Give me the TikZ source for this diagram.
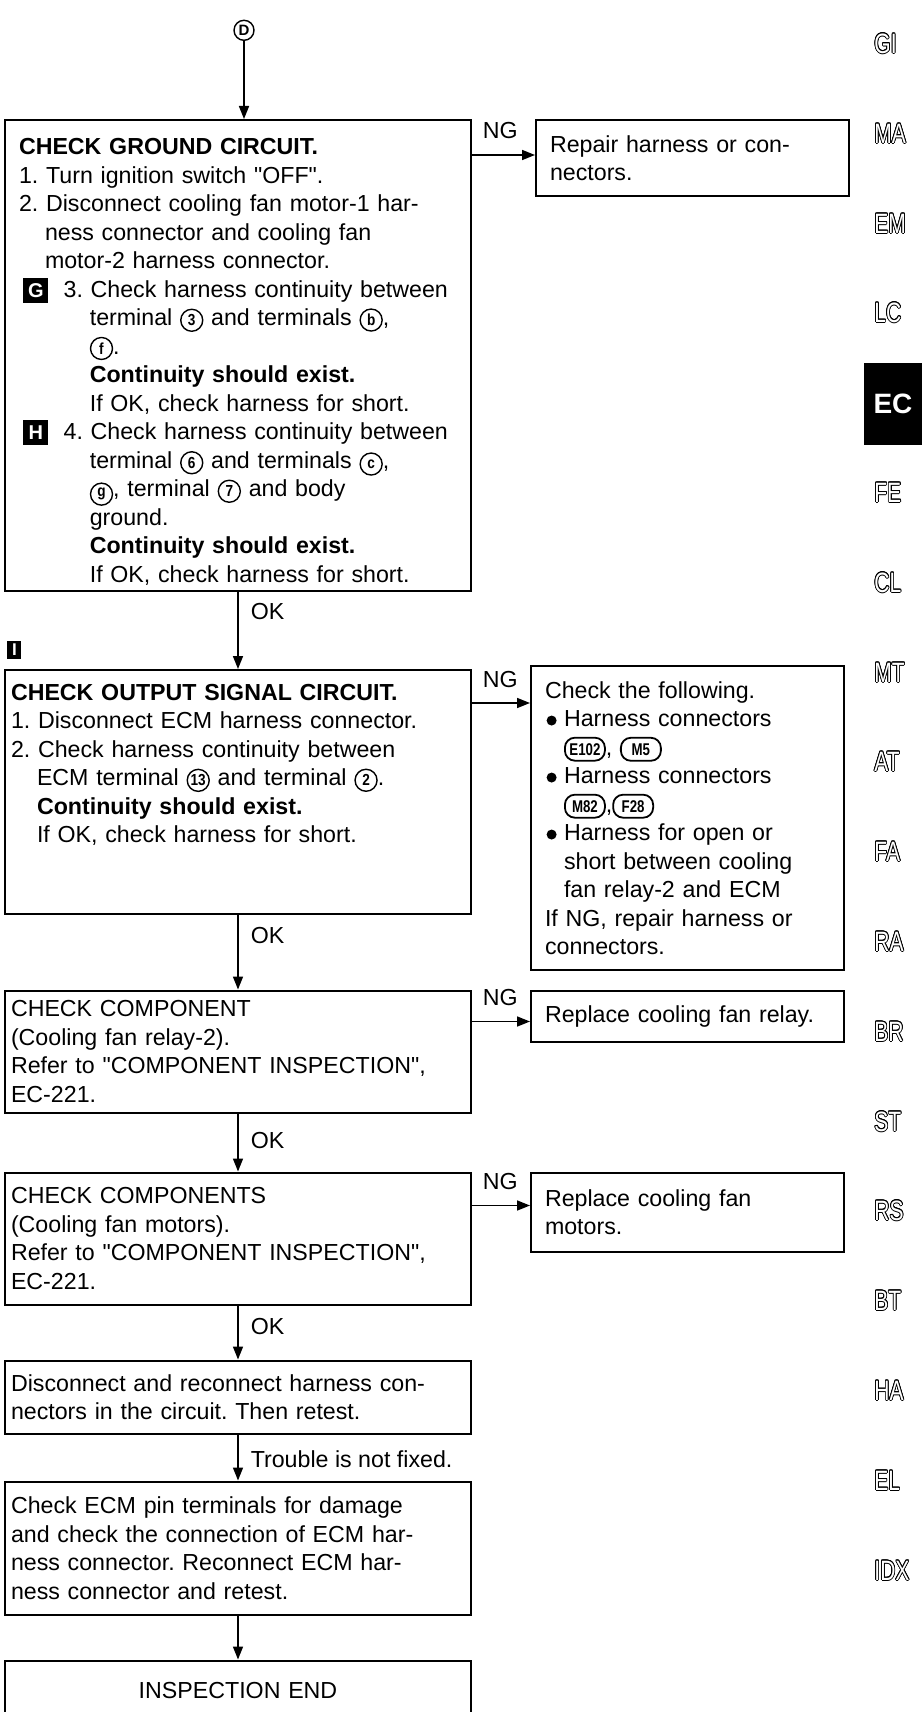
\documentclass[tikz,border=0pt]{standalone}
\usepackage{fontspec}
\setmainfont{Liberation Sans}[Ligatures=TeXOff]
\usepackage[copies]{contour}
\usetikzlibrary{arrows.meta,positioning}

\contourlength{0.4pt}
\newcommand{\bodyfont}{\fontsize{11.6}{14.25}\selectfont\lineskiplimit=-20pt\frenchspacing}
\newcommand{\tabfont}{\fontsize{14}{14}\selectfont}
% indents for continued lines
\newcommand{\ind}{\hspace*{13pt}}
\newcommand{\subind}{\hspace*{35.4pt}}
\newcommand{\bulind}{\hspace*{9.5pt}}
% black step markers, circled terminals, connector tags
\newcommand{\stepmark}[1]{\tikz[baseline=(m.base)]\node[fill=black, text=white, minimum size=12.5pt, inner sep=0pt, font=\bfseries\fontsize{10}{10}\selectfont] (m) {#1};}
\newcommand{\mk}[1]{\makebox[22.3pt][l]{\hspace*{2.2pt}\stepmark{#1}}}
\newcommand{\term}[1]{\tikz[baseline=(t.base)]\node[draw, circle, line width=0.7pt, minimum size=11pt, inner sep=0pt, font=\bfseries\fontsize{8}{8}\selectfont] (t) {\scalebox{0.85}[1]{#1}};}
\newcommand{\conn}[1]{\tikz[baseline=(c.base)]\node[draw, rounded corners=5pt, line width=0.9pt, minimum width=20pt, minimum height=11.5pt, inner xsep=2pt, inner ysep=1.5pt, font=\bfseries\fontsize{8.5}{8.5}\selectfont] (c) {\scalebox{0.78}[1]{#1}};}
\newcommand{\bul}{\makebox[9.5pt][l]{\hspace*{0.8pt}\tikz[baseline=-3pt]\fill (0,0) circle (2.5pt);}}
\newcommand{\tabtext}[1]{\contour{black}{\scalebox{0.75}[1]{#1}}}

\begin{document}
\begin{tikzpicture}[x=0.5pt, y=-0.5pt,
    box/.style={draw, line width=1pt, align=left, inner ysep=0pt, font=\bodyfont},
    mainbox/.style={box, text width=227pt, inner xsep=3pt},
    widebox/.style={box, text width=219pt, inner xsep=7pt},
    sidebox/.style={box, text width=142.5pt, inner xsep=7pt},
    endbox/.style={mainbox, align=center},
    arrow/.style={-{Triangle[length=6.5pt, width=5pt]}, line width=0.8pt},
    nglabel/.style={anchor=base west, inner sep=0pt, xshift=5pt, yshift=8pt, font=\bodyfont},
    oklabel/.style={anchor=west, inner sep=0pt, xshift=6pt, font=\bodyfont},
    tab/.style={text=white, anchor=west, inner sep=0pt, font=\tabfont},
    tabon/.style={fill=black, text=white, minimum width=29pt, minimum height=41pt, inner sep=0pt, font=\bfseries\tabfont}
  ]
    \useasboundingbox (0,0) rectangle (922,1712);
    \clip (0,0) rectangle (922,1712);
    \fill[white] (0,0) rectangle (922,1712);

    % main column
    \node[widebox, minimum height=235.5pt, anchor=north west] (ground) at (4,119) {%
      \rule{0pt}{14.5pt}\textbf{CHECK GROUND CIRCUIT.}\\
      1. Turn ignition switch "OFF".\\
      2. Disconnect cooling fan motor-1 har-\\
      \ind ness connector and cooling fan\\
      \ind motor-2 harness connector.\\
      \mk{G}3. Check harness continuity between\\
      \subind terminal \term{3} and terminals \term{b},\\
      \subind \term{f}.\\
      \subind \textbf{Continuity should exist.}\\
      \subind If OK, check harness for short.\\
      \mk{H}4. Check harness continuity between\\
      \subind terminal \term{6} and terminals \term{c},\\
      \subind \term{g}, terminal \term{7} and body\\
      \subind ground.\\
      \subind \textbf{Continuity should exist.}\\
      \subind If OK, check harness for short.};
    \node[draw, circle, line width=0.7pt, minimum size=10pt, inner sep=0pt, font=\bfseries\fontsize{7.5}{8}\selectfont, above=39pt of ground.north, xshift=3pt] (entry) {D};
    \node[mainbox, minimum height=122pt, below=38.5pt of ground] (output) {%
      \textbf{CHECK OUTPUT SIGNAL CIRCUIT.}\\
      1. Disconnect ECM harness connector.\\
      2. Check harness continuity between\\
      \ind ECM terminal \term{13} and terminal \term{2}.\\
      \ind \textbf{Continuity should exist.}\\
      \ind If OK, check harness for short.\\
      \mbox{}\\
      \mbox{}};
    \node[fill=black, text=white, minimum width=7pt, minimum height=9pt, inner sep=0pt, font=\bfseries\fontsize{8.5}{8.5}\selectfont, above right=5pt and 1.5pt of output.north west] (markI) {I};
    \node[mainbox, minimum height=61pt, below=37.25pt of output] (relay) {%
      CHECK COMPONENT\\
      (Cooling fan relay-2).\\
      Refer to "COMPONENT INSPECTION",\\
      EC-221.};
    \node[mainbox, minimum height=66pt, below=29pt of relay] (motors) {%
      CHECK COMPONENTS\\
      (Cooling fan motors).\\
      Refer to "COMPONENT INSPECTION",\\
      EC-221.};
    \node[mainbox, minimum height=36.5pt, below=27pt of motors] (reconnect) {%
      Disconnect and reconnect harness con-\\
      nectors in the circuit. Then retest.};
    \node[mainbox, minimum height=66.5pt, below=23pt of reconnect] (pins) {%
      Check ECM pin terminals for damage\\
      and check the connection of ECM har-\\
      ness connector. Reconnect ECM har-\\
      ness connector and retest.};
    \node[endbox, minimum height=30pt, below=22pt of pins] (finish) {INSPECTION END};

    % NG branches
    \node[sidebox, minimum height=38pt, right=31.5pt of ground.north east, anchor=north west] (repair) {%
      Repair harness or con-\\
      nectors.};
    \node[sidebox, minimum height=152pt, right=29pt of output.north east, anchor=north west, yshift=2pt] (following) {%
      Check the following.\\
      \bul Harness connectors\\
      \bulind \conn{E102}, \conn{M5}\\
      \bul Harness connectors\\
      \bulind \conn{M82},\conn{F28}\\
      \bul Harness for open or\\
      \bulind short between cooling\\
      \bulind fan relay-2 and ECM\\
      If NG, repair harness or\\
      connectors.};
    \node[sidebox, minimum height=25.5pt, right=29pt of relay.north east, anchor=north west] (relayfix) {%
      Replace cooling fan relay.};
    \node[sidebox, minimum height=39.5pt, right=29pt of motors.north east, anchor=north west] (motorfix) {%
      Replace cooling fan\\
      motors.};

    % connectors
    \draw[arrow] (entry) -- (entry |- ground.north);
    \draw[arrow] (ground.south) -- node[oklabel, pos=0.25] {OK} (output.north);
    \draw[arrow] (output.south) -- node[oklabel, pos=0.27] {OK} (relay.north);
    \draw[arrow] (relay.south) -- node[oklabel, pos=0.47] {OK} (motors.north);
    \draw[arrow] (motors.south) -- node[oklabel, pos=0.39] {OK} (reconnect.north);
    \draw[arrow] (reconnect.south) -- node[oklabel, pos=0.53] {Trouble is not fixed.} (pins.north);
    \draw[arrow] (pins.south) -- (finish.north);
    \draw[arrow] ([yshift=-18pt]ground.north east) -- node[nglabel, pos=0] {NG} ([yshift=-18pt]ground.north east -| repair.west);
    \draw[arrow] ([yshift=-17pt]output.north east) -- node[nglabel, pos=0] {NG} ([yshift=-17pt]output.north east -| following.west);
    \draw[arrow] ([yshift=-16pt]relay.north east) -- node[nglabel, pos=0] {NG} ([yshift=-16pt]relay.north east -| relayfix.west);
    \draw[arrow] ([yshift=-17pt]motors.north east) -- node[nglabel, pos=0] {NG} ([yshift=-17pt]motors.north east -| motorfix.west);

    % section tabs
    \node[tab] (tabGI) at (874,44) {\tabtext{GI}};
    \node[tab] (tabMA) at (874,134) {\tabtext{MA}};
    \node[tab] (tabEM) at (874,224) {\tabtext{EM}};
    \node[tab] (tabLC) at (874,313) {\tabtext{LC}};
    \node[tabon] (tabEC) at (893,404) {EC};
    \node[tab] (tabFE) at (874,493) {\tabtext{FE}};
    \node[tab] (tabCL) at (874,583) {\tabtext{CL}};
    \node[tab] (tabMT) at (874,673) {\tabtext{MT}};
    \node[tab] (tabAT) at (874,762) {\tabtext{AT}};
    \node[tab] (tabFA) at (874,852) {\tabtext{FA}};
    \node[tab] (tabRA) at (874,942) {\tabtext{RA}};
    \node[tab] (tabBR) at (874,1032) {\tabtext{BR}};
    \node[tab] (tabST) at (874,1122) {\tabtext{ST}};
    \node[tab] (tabRS) at (874,1211) {\tabtext{RS}};
    \node[tab] (tabBT) at (874,1301) {\tabtext{BT}};
    \node[tab] (tabHA) at (874,1391) {\tabtext{HA}};
    \node[tab] (tabEL) at (874,1481) {\tabtext{EL}};
    \node[tab] (tabIDX) at (874,1571) {\tabtext{IDX}};
\end{tikzpicture}
\end{document}
